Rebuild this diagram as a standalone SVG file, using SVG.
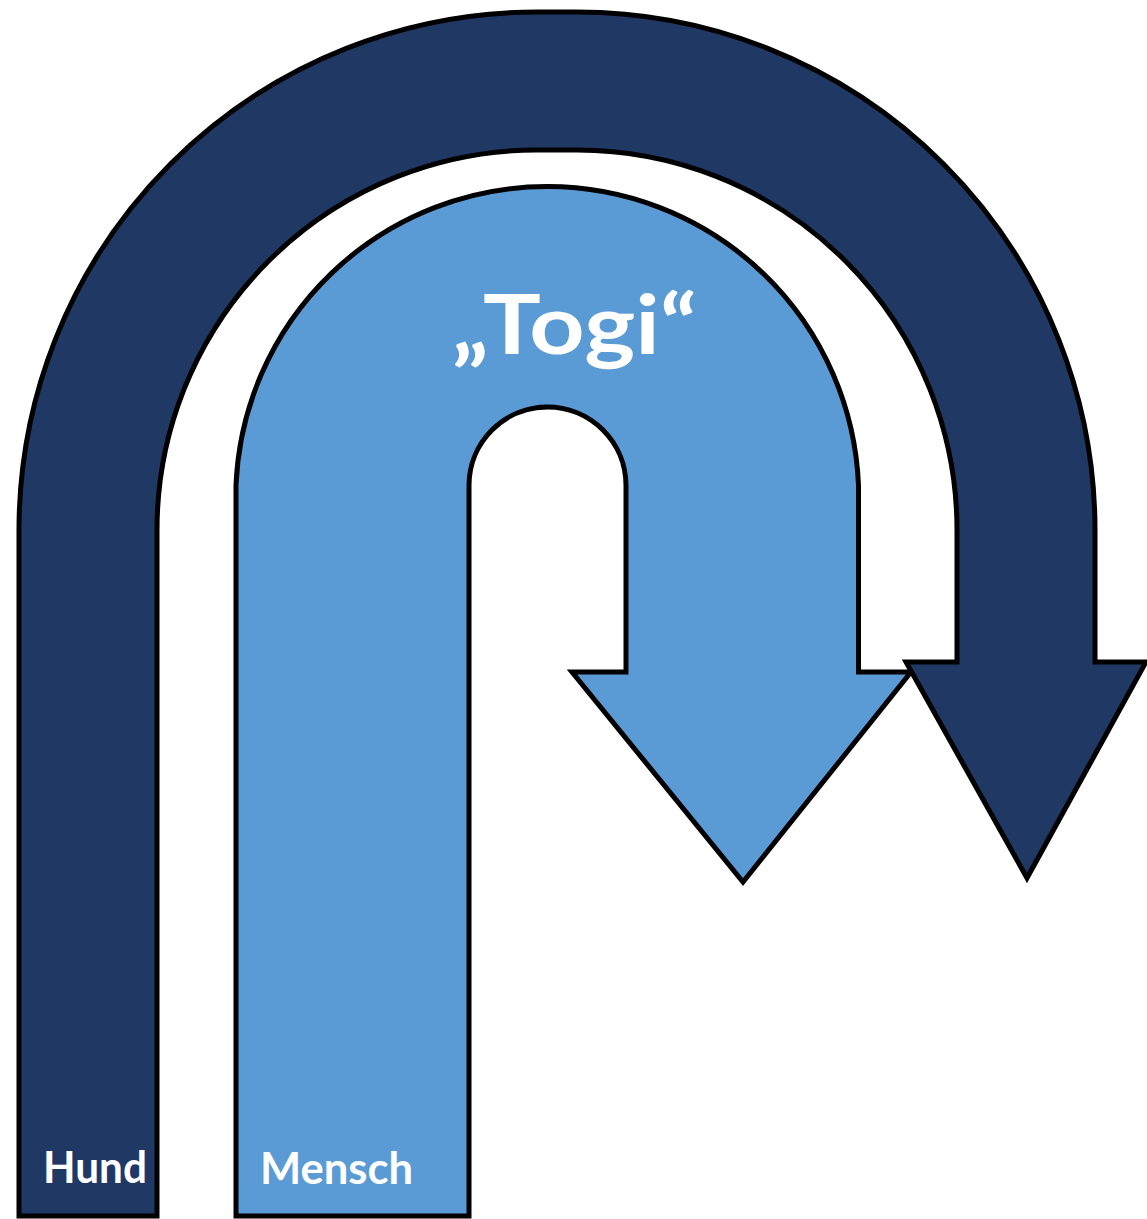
<svg xmlns="http://www.w3.org/2000/svg" width="1147" height="1219" viewBox="0 0 1147 1219">
  <style>
    .shape { stroke: #000000; stroke-width: 5; stroke-linejoin: miter; }
    .dark { fill: #203864; }
    .light { fill: #5B9BD5; }
    .lbl { fill: #FFFFFF; font-family: Lato, "Open Sans", "Liberation Sans", sans-serif; font-weight: bold; }
  </style>
  <rect width="1147" height="1219" fill="#FFFFFF"/>
  <g id="mensch-arrow">
    <path class="shape light" d="M 236 1216 L 236 485.5 A 311.5 311.5 0 0 1 858.5 485.5 L 858.5 672 L 911 672 L 743 882 L 572 672 L 626 672 L 626 485.5 A 78.5 78.5 0 0 0 469 485.5 L 469 1216 Z"/>
    <text class="lbl" x="260" y="1184" font-size="43" textLength="153" lengthAdjust="spacingAndGlyphs">Mensch</text>
    <text class="lbl" x="452" y="354" font-size="82" textLength="245" lengthAdjust="spacingAndGlyphs">„Togi“</text>
  </g>
  <g id="hund-arrow">
    <path class="shape dark" d="M 19 1216 L 19 530 A 518 518 0 0 1 537 12 L 577 12 A 518 518 0 0 1 1095 530 L 1095 662 L 1146 662 L 1027 878 L 906 662 L 957 662 L 957 530 A 380 380 0 0 0 577 150 L 537 150 A 380 380 0 0 0 157 530 L 157 1216 Z"/>
    <text class="lbl" x="43" y="1183" font-size="43" textLength="104" lengthAdjust="spacingAndGlyphs">Hund</text>
  </g>
  <g id="connectors"></g>
</svg>
